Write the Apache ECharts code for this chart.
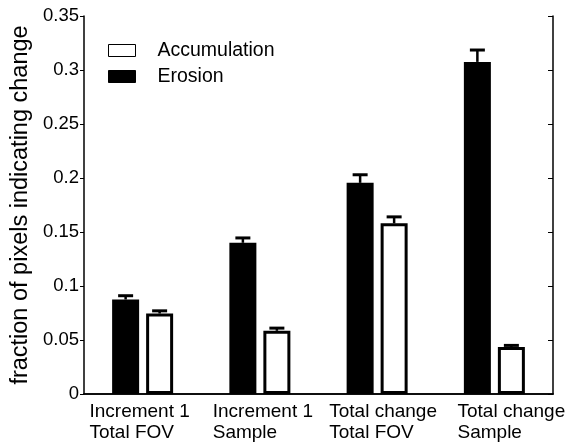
<!DOCTYPE html>
<html>
<head>
<meta charset="utf-8">
<script src="https://cdn.jsdelivr.net/npm/echarts@6/dist/echarts.min.js"></script>
<style>
  html, body { margin: 0; padding: 0; background: #fff; }
  #chart { width: 570px; height: 448px; }
</style>
</head>
<body>
<div id="chart"></div>
<script>
// Category labels (two lines each)
const categories = [
  'Increment 1\nTotal FOV',
  'Increment 1\nSample',
  'Total change\nTotal FOV',
  'Total change\nSample'
];
// Fraction of pixels indicating change
const erosion = [0.0875, 0.140, 0.1955, 0.3075];
const accumulation = [0.0745, 0.0585, 0.158, 0.0435];
// Upper error bar lengths
const erosionErr = [0.0035, 0.0045, 0.0075, 0.011];
const accumulationErr = [0.0025, 0.0025, 0.006, 0.0015];
// Y-axis ticks
const yTicks = [0, 0.05, 0.1, 0.15, 0.2, 0.25, 0.3, 0.35];

const FONT = 'Liberation Sans, Arial, sans-serif';
const BAR_W = 27;      // inner bar width (border adds 3px)
const BAR_BORDER = 3;
const INNER_GAP = 7;   // gap between the two rects of a group
const HALF_SPACING = (BAR_W + INNER_GAP) / 2;

// small horizontal nudges of the two-line category labels
const labelShift = [-3, 3, 6, 17];

function errorSeries(name, values, errs, side) {
  return {
    type: 'custom',
    name: name + ' err',
    z: 5,
    silent: true,
    renderItem: function (params, api) {
      const x = api.coord([api.value(0), 0])[0] + side * HALF_SPACING;
      const yTop = api.coord([api.value(0), api.value(1)])[1];
      const yCap = api.coord([api.value(0), api.value(1) + api.value(2)])[1];
      const style = { stroke: '#000', fill: null };
      return {
        type: 'group',
        children: [
          { type: 'line', shape: { x1: x, y1: yTop, x2: x, y2: yCap },
            style: Object.assign({ lineWidth: 2.5 }, style) },
          { type: 'line', shape: { x1: x - 7.5, y1: yCap, x2: x + 7.5, y2: yCap },
            style: Object.assign({ lineWidth: 3 }, style) }
        ]
      };
    },
    data: values.map((v, i) => [i, v, errs[i]])
  };
}

const chart = echarts.init(document.getElementById('chart'), null, { renderer: 'canvas' });

chart.setOption({
  animation: false,
  backgroundColor: '#fff',
  textStyle: { fontFamily: FONT },
  grid: { left: 84, right: 17, top: 16, bottom: 54 },
  legend: {
    orient: 'vertical',
    left: 108,
    top: 40,
    padding: 0,
    itemWidth: 27,
    itemHeight: 12,
    itemGap: 5,
    textStyle: { fontFamily: FONT, fontSize: 19.5, lineHeight: 21, color: '#000', padding: [0, 0, 0, 17] },
    data: [
      { name: 'Accumulation', icon: 'rect', itemStyle: { color: '#fff', borderColor: '#000', borderWidth: 1 } },
      { name: 'Erosion', icon: 'rect', itemStyle: { color: '#000', borderColor: '#000', borderWidth: 1 } }
    ]
  },
  xAxis: [
    {
      type: 'category',
      data: categories.map((c, i) => ({
        value: c,
        textStyle: { padding: labelShift[i] >= 0 ? [0, 0, 0, 2 * labelShift[i]] : [0, -2 * labelShift[i], 0, 0] }
      })),
      boundaryGap: true,
      axisLine: { lineStyle: { color: '#000', width: 1.5 } },
      axisTick: { inside: true, alignWithLabel: true, length: 4, lineStyle: { color: '#888' } },
      axisLabel: {
        interval: 0,
        hideOverlap: false,
        fontFamily: FONT, fontSize: 19, color: '#000', margin: 7,
        formatter: function (v) {
          return v.split('\n').map(s => '{l|' + s + '}').join('\n');
        },
        rich: { l: { align: 'left', fontFamily: FONT, fontSize: 19, lineHeight: 21, color: '#000' } }
      }
    },
    {
      type: 'category',
      position: 'top',
      data: categories,
      boundaryGap: true,
      axisLine: { lineStyle: { color: '#000', width: 1.5 } },
      axisTick: { inside: true, alignWithLabel: true, length: 5, lineStyle: { color: '#000' } },
      axisLabel: { show: false }
    }
  ],
  yAxis: [
    {
      type: 'value',
      min: yTicks[0],
      max: yTicks[yTicks.length - 1],
      interval: 0.05,
      name: 'fraction of pixels indicating change',
      nameLocation: 'middle',
      nameGap: 49,
      nameTextStyle: { fontFamily: FONT, fontSize: 23.5, color: '#000' },
      axisLine: { show: true, lineStyle: { color: '#000', width: 1.5 } },
      axisTick: { show: true, inside: false, length: 4, lineStyle: { color: '#000' } },
      splitLine: { show: false },
      axisLabel: { fontFamily: FONT, fontSize: 18.5, color: '#000', margin: 5 }
    },
    {
      type: 'value',
      position: 'right',
      min: yTicks[0],
      max: yTicks[yTicks.length - 1],
      interval: 0.05,
      axisLine: { show: true, lineStyle: { color: '#000', width: 1.5 } },
      axisTick: { show: true, inside: true, length: 5, lineStyle: { color: '#000' } },
      splitLine: { show: false },
      axisLabel: { show: false }
    }
  ],
  series: [
    {
      type: 'bar',
      name: 'Erosion',
      data: erosion,
      barWidth: BAR_W,
      barGap: (INNER_GAP / BAR_W * 100) + '%',
      itemStyle: { color: '#000', borderColor: '#000', borderWidth: BAR_BORDER }
    },
    {
      type: 'bar',
      name: 'Accumulation',
      data: accumulation,
      barWidth: BAR_W,
      barGap: (INNER_GAP / BAR_W * 100) + '%',
      itemStyle: { color: '#fff', borderColor: '#000', borderWidth: BAR_BORDER }
    },
    errorSeries('Erosion', erosion, erosionErr, -1),
    errorSeries('Accumulation', accumulation, accumulationErr, 1)
  ]
});
</script>
</body>
</html>
